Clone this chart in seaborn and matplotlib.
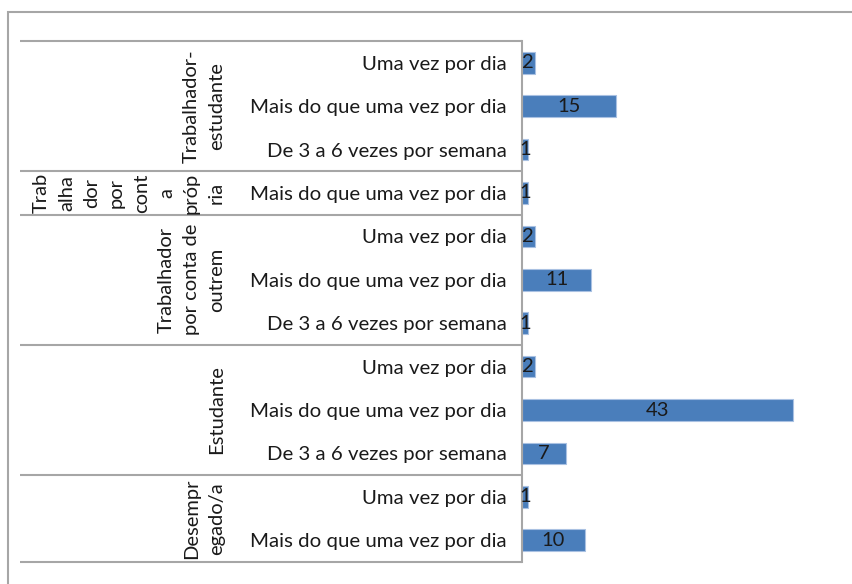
import matplotlib
matplotlib.use("Agg")
import matplotlib.pyplot as plt
import matplotlib.transforms as mtransforms
from matplotlib.patches import Rectangle
import seaborn as sns
import pandas as pd

# ---- data ----
groups = ["Trabalhador-\nestudante",
          "Trab\nalha\ndor\npor\ncont\na\npróp\nria",
          "Trabalhador\npor conta de\noutrem",
          "Estudante",
          "Desempr\negado/a"]
group_sizes = [3, 1, 3, 3, 2]
categories = ["Uma vez por dia", "Mais do que uma vez por dia", "De 3 a 6 vezes por semana",
              "Mais do que uma vez por dia",
              "Uma vez por dia", "Mais do que uma vez por dia", "De 3 a 6 vezes por semana",
              "Uma vez por dia", "Mais do que uma vez por dia", "De 3 a 6 vezes por semana",
              "Uma vez por dia", "Mais do que uma vez por dia"]
values = [2, 15, 1, 1, 2, 11, 1, 2, 43, 7, 1, 10]

sns.set_style("white")
plt.rcParams["font.family"] = ["Lato", "DejaVu Sans"]

W, H = 853, 584
fig = plt.figure(figsize=(W / 100, H / 100), dpi=100)
ax_left, ax_right, ax_top, ax_bot = 522, 837, 41, 562
ax = fig.add_axes([ax_left / W, 1 - ax_bot / H, (ax_right - ax_left) / W, (ax_bot - ax_top) / H])

df = pd.DataFrame({"key": [f"r{i}" for i in range(len(values))], "value": values})
sns.barplot(data=df, x="value", y="key", orient="h", color="#4A7EBB", width=0.5,
            edgecolor="#A9C1E2", linewidth=0.8, saturation=1, ax=ax)
ax.set_xlim(0, 50)
ax.set_ylim(len(values) - 0.5, -0.5)
ax.set_xlabel("")
ax.set_ylabel("")
ax.set_xticks([])
ax.set_yticks(range(len(values)))
ax.set_yticklabels(categories, fontsize=14.7, color="#1a1a1a")
ax.tick_params(axis="y", length=0, pad=11)
for s in ["top", "right", "bottom"]:
    ax.spines[s].set_visible(False)
ax.spines["left"].set_color("#A6A6A6")
ax.spines["left"].set_linewidth(1.5)

for c in ax.containers:
    ax.bar_label(c, label_type="center", fontsize=14.5, color="#1a1a1a")

# separators and group labels
tr = mtransforms.blended_transform_factory(fig.transFigure, ax.transData)
bounds = [-0.5]
for g in group_sizes:
    bounds.append(bounds[-1] + g)
for b in bounds:
    ax.plot([20 / W, ax_left / W], [b, b], transform=tr, color="#A6A6A6", lw=1.5,
            clip_on=False, solid_capstyle="butt")
for i, g in enumerate(groups):
    center = (bounds[i] + bounds[i + 1]) / 2
    ax.text(225 / W, center, g, transform=tr, rotation=90, ha="right", va="center",
            multialignment="center", fontsize=14.5, color="#1a1a1a", linespacing=1.57)

# outer frame
fig.add_artist(Rectangle((8 / W, -0.1), 1.2, 1 - 12 / H + 0.1, transform=fig.transFigure,
                         fill=False, edgecolor="#A6A6A6", lw=1.5))

fig.savefig("out.png", dpi=100)
